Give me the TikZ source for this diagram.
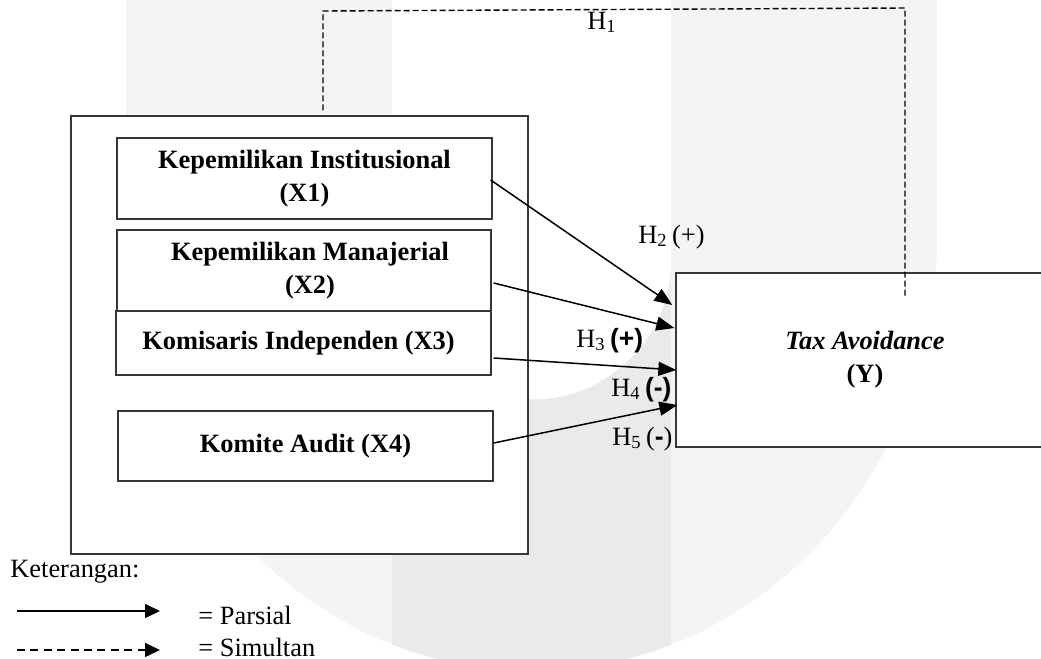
\documentclass[tikz,border=0pt]{standalone}
\usepackage{fontspec}
\setmainfont{Liberation Serif}
\newfontfamily\sansf{Liberation Sans}
\usetikzlibrary{arrows.meta,calc}
\definecolor{wmlight}{RGB}{244,244,244}
\definecolor{wmdark}{RGB}{234,234,234}
\definecolor{boxline}{RGB}{55,55,55}
\begin{document}
\begin{tikzpicture}[x=0.5pt,y=-0.5pt,
  box/.style={draw=boxline, line width=0.65pt, fill=white, inner sep=0pt, align=center,
    font=\fontsize{13.2}{16.5}\selectfont\bfseries},
  lbl/.style={inner sep=0pt, anchor=base west, font=\fontsize{13.2}{16.5}\selectfont},
  arr/.style={line width=0.75pt, -{Triangle[length=9pt,width=7pt]}},
  legarr/.style={line width=0.75pt, -{Triangle[length=7.5pt,width=7pt]}},
  simul/.style={line width=0.7pt, dash pattern=on 3pt off 1.5pt},
]
\useasboundingbox (0,0) rectangle (1041,659);
\begin{scope}
  \clip (0,0) rectangle (1041,659);
  % faint watermark
  \fill[wmlight] (126,-5) rectangle (392,238);
  \fill[wmlight] (671,-5) rectangle (937,238);
  \fill[wmlight] (532,238) ellipse [x radius=405, y radius=433];
  \begin{scope}
    \clip (532,238) ellipse [x radius=405, y radius=433];
    \fill[wmdark] (392,260) rectangle (671,700);
  \end{scope}
  \fill[white] (392,-5) rectangle (671,260);
  \fill[white] (531.5,260) circle [radius=139.5];
\end{scope}

% outer group box
\node[draw=boxline, line width=0.65pt, fill=white, inner sep=0pt,
  minimum width=228.5pt, minimum height=219pt] (grp) at (299.5,335) {};

\node[box, minimum width=187.5pt, minimum height=40.5pt] (x1) at (304.5,178.5)
  {Kepemilikan Institusional\\(X1)};
\node[box, minimum width=187pt, minimum height=40.5pt] (x2) at (304,270.5)
  {\hspace*{6pt}Kepemilikan Manajerial\\\hspace*{6pt}(X2)};
\node[box, minimum width=187.5pt, minimum height=32pt] (x3) at (303.5,343)
  {Komisaris Independen (X3)\hspace*{5pt}};
\node[box, minimum width=187.5pt, minimum height=35pt] (x4) at (305.5,446)
  {Komite Audit (X4)};
\node[box, minimum width=189pt, minimum height=87pt] (y) at (865,360)
  {\textit{Tax Avoidance}\\(Y)};

% partial arrows
\draw[arr] ($(x1.east)+(-2,1.5)$) -- ($(y.west)+(-3,-55)$);
\draw[arr] ($(x2.east)+(2,12.5)$) -- ($(y.west)+(-1,-32)$);
\draw[arr] ($(x3.east)+(2,15)$) -- ($(y.west)+(1,10)$);
\draw[arr] ($(x4.east)+(0,-3)$) -- ($(y.west)+(2,45)$);

% simultaneous (dashed) connector
\coordinate (c1) at (323,11);
\coordinate (c2) at (905,8);
\draw[simul] ($(grp.north)+(23.5,-5)$) -- (c1) -- (c2) -- ($(y.north)+(40,24)$);

% hypothesis labels
\node[lbl] (h1) at (587,29) {H\textsubscript{1}};
\node[lbl] (h2) at (638,243) {H\textsubscript{2}\,(+)};
\node[lbl] (h3) at (576,347) {H\textsubscript{3}\,{\sansf\bfseries(+)}};
\node[lbl] (h4) at (611,396) {H\textsubscript{4}\,{\sansf\bfseries(-)}};
\node[lbl] (h5) at (612,445) {H\textsubscript{5}\,({\sansf\bfseries -})};

% legend
\node[lbl] (ket) at (10,577) {Keterangan:};
\node[lbl] (lp) at (198,624) {= Parsial};
\node[lbl] (ls) at (198,656) {= Simultan};
\coordinate (p1) at (17,611);
\coordinate (p2) at (160,611);
\draw[legarr] (p1) -- (p2);
\coordinate (s1) at (17,650);
\coordinate (s2) at (160,650);
\draw[legarr, dash pattern=on 4pt off 2.7pt] (s1) -- (s2);
\end{tikzpicture}
\end{document}
